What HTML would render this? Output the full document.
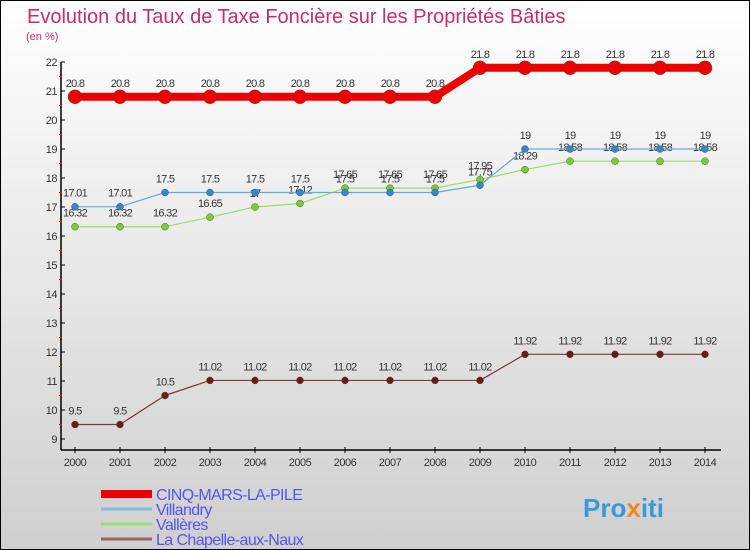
<!DOCTYPE html>
<html><head><meta charset="utf-8"><style>
body{margin:0;}
#c{position:relative;width:750px;height:550px;box-sizing:border-box;border:1px solid #000;background:linear-gradient(#ffffff,#cfcfcf);overflow:hidden;font-family:"Liberation Sans",sans-serif;}
</style></head><body>
<div id="c">
<svg id="s" width="748" height="548" style="position:absolute;left:0;top:0">
<text x="26" y="22" font-size="20" fill="#c0306a">Evolution du Taux de Taxe Foncière sur les Propriétés Bâties</text>
<text x="25" y="39" font-size="11" fill="#c0306a">(en %)</text>
<g id="axes"></g><g id="series"></g><g id="legend"></g>
<text x="582" y="516" font-size="26" font-weight="bold" fill="#3a9ad9">Pro<tspan fill="#f08a20">x</tspan>iti</text>
</svg>
</div>
<script>
const years=[2000,2001,2002,2003,2004,2005,2006,2007,2008,2009,2010,2011,2012,2013,2014];
const cinq=[20.8,20.8,20.8,20.8,20.8,20.8,20.8,20.8,20.8,21.8,21.8,21.8,21.8,21.8,21.8];
const villandry=[17.01,17.01,17.5,17.5,17.5,17.5,17.5,17.5,17.5,17.75,19,19,19,19,19];
const valleres=[16.32,16.32,16.32,16.65,17,17.12,17.65,17.65,17.65,17.95,18.29,18.58,18.58,18.58,18.58];
const chapelle=[9.5,9.5,10.5,11.02,11.02,11.02,11.02,11.02,11.02,11.02,11.92,11.92,11.92,11.92,11.92];
const yTicks=[9,10,11,12,13,14,15,16,17,18,19,20,21,22];
const seriesNames=["CINQ-MARS-LA-PILE","Villandry","Vallères","La Chapelle-aux-Naux"];
const NS="http://www.w3.org/2000/svg";
function X(i){return 74+i*45;}
function Y(v){return 438-(v-9)*(377/13);}
function mk(t,a,p){const e=document.createElementNS(NS,t);for(const k in a)e.setAttribute(k,a[k]);(p||document.getElementById('series')).appendChild(e);return e;}
const ax=document.getElementById('axes');
let e=mk('line',{x1:60,y1:Y(22),x2:60,y2:449,stroke:'#000','stroke-width':1.5},ax);


e=mk('line',{x1:60,y1:449,x2:720,y2:449,stroke:'#000','stroke-width':1.5},ax);


yTicks.forEach(v=>{mk('line',{x1:60,y1:Y(v),x2:64,y2:Y(v),stroke:'#000'},ax);
 if(v<22)mk('line',{x1:58,y1:Y(v+0.5),x2:61,y2:Y(v+0.5),stroke:'#e00'},ax);
 const t=mk('text',{x:56,y:Y(v)+4,'font-size':11,fill:'#333','text-anchor':'end','letter-spacing':'-0.5'},ax);t.textContent=v;
 
 });
years.forEach((y,i)=>{mk('line',{x1:X(i),y1:446,x2:X(i),y2:452,stroke:'#000'},ax);
 const t=mk('text',{x:X(i),y:465,'font-size':11,fill:'#333','text-anchor':'middle','letter-spacing':'-0.5'},ax);t.textContent=y;
 
 });
function draw(d,col,w,r,dot,name){
 const l=mk('polyline',{points:d.map((v,i)=>X(i)+','+Y(v)).join(' '),fill:'none',stroke:col,'stroke-width':w,'stroke-linejoin':'round'});
 
 
 d.forEach((v,i)=>{const c=mk('circle',{cx:X(i),cy:Y(v),r:r,fill:dot,stroke:'#444','stroke-width':0.4});
  
  
  const t=mk('text',{x:X(i),y:Y(v)-10,'font-size':11,fill:'#333','text-anchor':'middle','letter-spacing':'-0.7'});t.textContent=v;
  
  });
}
draw(chapelle,'#7a3a3a',1.2,3.5,'#6b1a1a','la-chapelle');
draw(valleres,'#99dd66',1.2,3.5,'#77cc33','valleres');
draw(villandry,'#66aadd',1.2,3.5,'#3388cc','villandry');
draw(cinq,'#ee0000',8,7,'#ee0000','cinq-mars');
const lg=document.getElementById('legend');
const lc=['#ee0000','#88bbdd','#99dd77','#996666'],lw=[8,3,3,3];
seriesNames.forEach((n,i)=>{const y=493+i*15;
 const l=mk('line',{x1:100,y1:y,x2:151,y2:y,stroke:lc[i],'stroke-width':lw[i]},lg);
 
 
 const t=mk('text',{x:155,y:y+6,'font-size':16,fill:'#5555ee','letter-spacing':'-0.6'},lg);t.textContent=n;
 
 });
</script>
</body></html>
